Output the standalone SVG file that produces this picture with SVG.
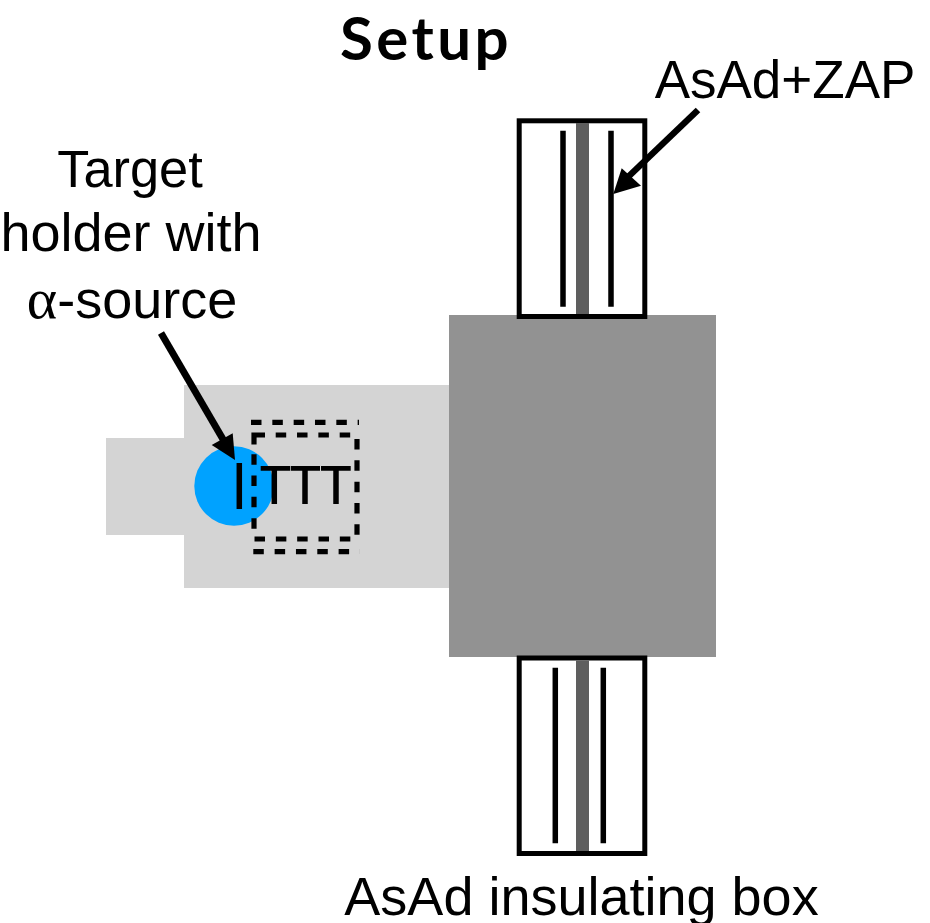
<svg xmlns="http://www.w3.org/2000/svg" width="930" height="923" viewBox="0 0 930 923">
<style>
.lbl{font-family:"Liberation Sans",Arial,sans-serif;font-size:53px;fill:#000}
.wide{font-size:54px}
.ttl{font-family:Lato,"Noto Sans",sans-serif;font-size:60px;font-weight:700;letter-spacing:3.4px;fill:#000}
.box{fill:#fff;stroke:#000;stroke-width:5}
.bar{fill:#5e5e5e}
.ln{stroke:#000;stroke-width:5.5;fill:none}
.ds{stroke:#000;stroke-width:5.2;fill:none;stroke-dasharray:10.5 10.83}
.ar{stroke:#000;stroke-width:6.5;fill:none}
</style>
<rect width="930" height="923" fill="#fff"/>
<g id="holder">
<rect x="106" y="438" width="78" height="97" fill="#d4d4d4"/>
<rect x="184" y="385" width="265" height="203" fill="#d4d4d4"/>
</g>
<g id="chamber"><rect x="449" y="315" width="267" height="342" fill="#929292"/></g>
<g id="source"><circle cx="234" cy="486" r="39.7" fill="#00a2ff"/></g>
<g id="target">
<path class="ln" d="M239.3 463V509"/>
<path class="ln" d="M260.7 468.3H290M290.7 468.3H320M321 468.3H350.7" style="stroke-width:4.8"/>
<path class="ln" d="M274.3 466V504M305 466V504M336 466V504"/>
<path class="ds" d="M251 422.3H359"/>
<path class="ds" d="M253.3 551.7H360"/>
<path class="ds" d="M275.7 435H357V539H254V449"/>
<path class="ln" d="M254 444.5V435H265" style="stroke-width:5.2"/>
</g>
<g id="asad-top">
<rect class="box" x="519.2" y="120.8" width="125.6" height="195.7"/>
<rect class="bar" x="576" y="123" width="13" height="191"/>
<path class="ln" d="M563 130.7V306.7M611 130.7V306.7"/>
</g>
<g id="asad-bottom">
<rect class="box" x="519.2" y="658" width="125.6" height="195.5"/>
<rect class="bar" x="576" y="660.5" width="13" height="190.5"/>
<path class="ln" d="M555.3 667.7V843.3M603.3 667.7V843.3"/>
</g>
<g id="connectors">
<path class="ar" d="M698 110L628 177"/>
<polygon points="613.3,194 621.7,168.3 641,185.7"/>
<path class="ar" d="M161 333L224 441" style="stroke-width:7"/>
<polygon points="235,460 232.7,433.3 211.7,445"/>
</g>
<g id="labels">
<text class="ttl" x="426" y="60" text-anchor="middle">Setup</text>
<text class="lbl" x="785" y="98" text-anchor="middle">AsAd+ZAP</text>
<text class="lbl" x="130" y="187" text-anchor="middle" style="font-size:52.4px">Target</text>
<text class="lbl wide" x="131" y="250.5" text-anchor="middle">holder with</text>
<text class="lbl wide" x="132" y="318.3" text-anchor="middle"><tspan font-family="Liberation Serif,serif" font-size="58">α</tspan>-source</text>
<text class="lbl wide" x="581.5" y="915" text-anchor="middle">AsAd insulating box</text>
</g>
</svg>
